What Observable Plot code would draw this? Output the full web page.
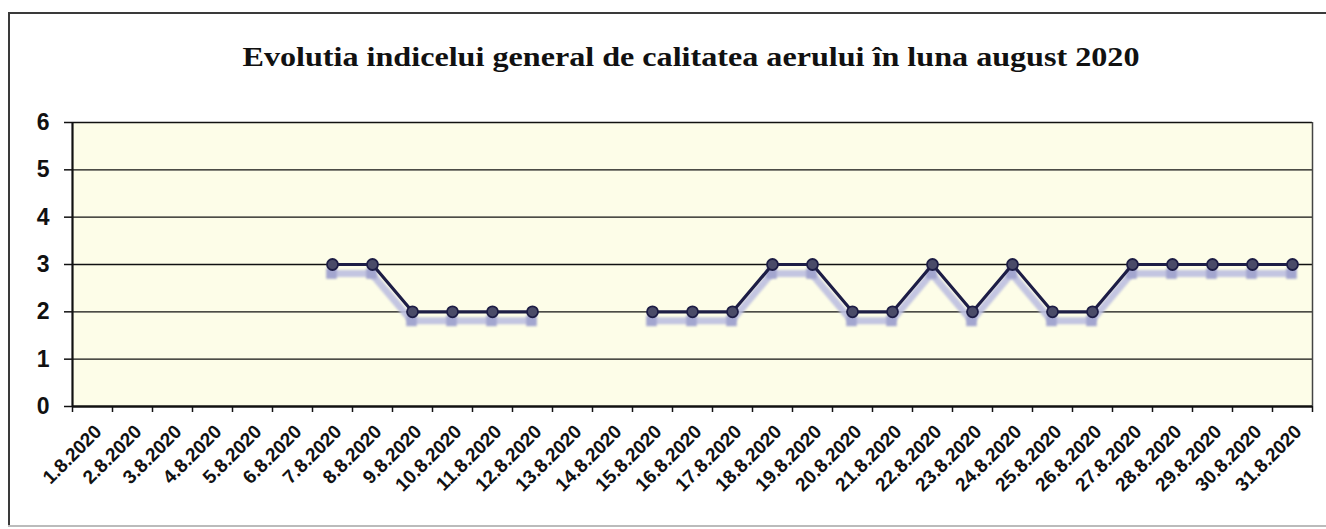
<!DOCTYPE html>
<html>
<head>
<meta charset="utf-8">
<script src="https://cdn.jsdelivr.net/npm/d3@7"></script>
<script src="https://cdn.jsdelivr.net/npm/@observablehq/plot@0.6"></script>
<style>
  html, body { margin: 0; padding: 0; background: #fff; overflow: hidden; width: 1326px; height: 529px; }
  #wrap { position: relative; width: 1326px; height: 529px; overflow: hidden; background: #fff; }
  .bl { position: absolute; background: #3a3a3a; }
  #title { position: absolute; left: 0; top: 0; }
  #chart { position: absolute; left: 0; top: 0; }
</style>
</head>
<body>
<div id="wrap">
  <div class="bl" style="left:8px; top:12px; width:2px; height:515px;"></div>
  <div class="bl" style="left:8px; top:12px; width:1318px; height:2px;"></div>
  <div class="bl" style="left:8px; top:525px; width:1318px; height:2px; background:#bbb;"></div>
  <svg id="title" width="1326" height="100"></svg>
  <div id="chart"></div>
</div>
<script>
const titleText = "Evolutia indicelui general de calitatea aerului în luna august 2020";

const days = [
  "1.8.2020", "2.8.2020", "3.8.2020", "4.8.2020", "5.8.2020", "6.8.2020", "7.8.2020", "8.8.2020",
  "9.8.2020", "10.8.2020", "11.8.2020", "12.8.2020", "13.8.2020", "14.8.2020", "15.8.2020", "16.8.2020",
  "17.8.2020", "18.8.2020", "19.8.2020", "20.8.2020", "21.8.2020", "22.8.2020", "23.8.2020", "24.8.2020",
  "25.8.2020", "26.8.2020", "27.8.2020", "28.8.2020", "29.8.2020", "30.8.2020", "31.8.2020"
];

const indexValues = [
  null, null, null, null, null, null, 3, 3,
  2, 2, 2, 2, null, null, 2, 2,
  2, 3, 3, 2, 2, 3, 2, 3,
  2, 2, 3, 3, 3, 3, 3
];

const yTicks = [0, 1, 2, 3, 4, 5, 6];

// title
const tsvg = d3.select("#title");
tsvg.append("text")
  .attr("x", 691).attr("y", 66)
  .attr("text-anchor", "middle")
  .attr("font-family", "'Liberation Serif', 'Times New Roman', serif")
  .attr("font-weight", "bold")
  .attr("font-size", 27)
  .attr("fill", "#111")
  .attr("textLength", 897)
  .attr("lengthAdjust", "spacingAndGlyphs")
  .text(titleText);

const data = days.map((d, i) => ({pos: i + 1, day: d, v: indexValues[i]}));
const centers = days.map((d, i) => i + 1);
const bounds = [0.5, ...centers.map(c => c + 0.5)];

const chart = Plot.plot({
  width: 1326,
  height: 529,
  marginLeft: 72,
  marginRight: 14,
  marginTop: 122,
  marginBottom: 123,
  style: {background: "transparent", fontFamily: "'Liberation Sans', Arial, sans-serif", color: "#111"},
  x: {type: "linear", domain: [0.5, days.length + 0.5]},
  y: {domain: [0, 6]},
  marks: [
    Plot.frame({fill: "#fdfde8", stroke: null}),
    Plot.gridY({ticks: yTicks.slice(1), stroke: "#111", strokeOpacity: 1, strokeWidth: 1.3}),
    Plot.ruleX([days.length + 0.5], {stroke: "#444", strokeWidth: 1.5}),
    Plot.ruleX([0.5], {stroke: "#111", strokeWidth: 2.2}),
    Plot.ruleY([0], {stroke: "#111", strokeWidth: 2.5}),
    Plot.axisY({ticks: yTicks, tickSize: 8, tickPadding: 15, tickFormat: d3.format("d"), fontSize: 23, fontWeight: "bold", label: null, stroke: "#111", strokeWidth: 1.5}),
    Plot.axisX({ticks: bounds, tickSize: 6, tickFormat: () => "", label: null, stroke: "#111", strokeWidth: 1.5}),
    Plot.axisX({ticks: centers, tickSize: 0, tickPadding: 22, tickRotate: -45, tickFormat: p => days[p - 1], fontSize: 19, fontWeight: "bold", label: null, dx: 6}),
    // shadow
    Plot.line(data, {x: "pos", y: "v", dx: -1, dy: 9, stroke: "#bcbfe0", strokeWidth: 7, strokeOpacity: 0.9}),
    Plot.dot(data, {x: "pos", y: "v", dx: -1, dy: 9, r: 6, symbol: "square", fill: "#a3a6cf", stroke: null}),
    // main
    Plot.line(data, {x: "pos", y: "v", stroke: "#1d1d45", strokeWidth: 3.2}),
    Plot.dot(data, {x: "pos", y: "v", r: 5.5, fill: "#4a4b68", stroke: "#1d1d45", strokeWidth: 1.8})
  ]
});
// soften the drop shadow (first line and first dot groups)
const lines = chart.querySelectorAll('g[aria-label="line"]');
const dots = chart.querySelectorAll('g[aria-label="dot"]');
if (lines.length) lines[0].style.filter = "blur(1.2px)";
if (dots.length) dots[0].style.filter = "blur(1.2px)";
document.getElementById("chart").appendChild(chart);
</script>
</body>
</html>
